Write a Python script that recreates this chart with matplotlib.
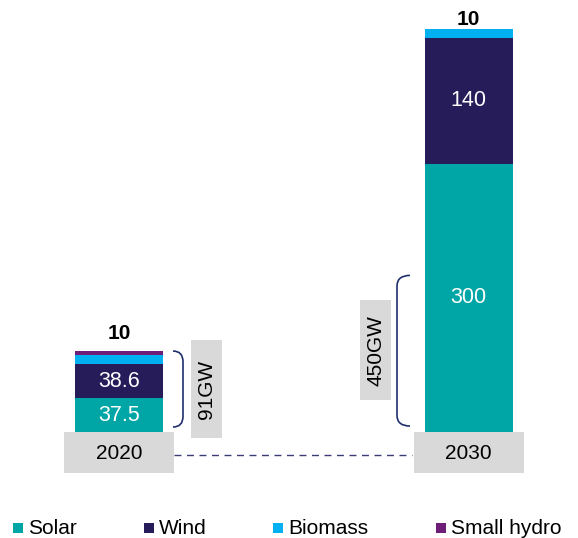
import matplotlib.pyplot as plt
from matplotlib.patches import Rectangle, PathPatch
from matplotlib.path import Path

plt.rcParams['font.family'] = ['Liberation Sans', 'DejaVu Sans']

years = ['2020', '2030']
solar = [37.5, 300]
wind = [38.6, 140]
biomass = [10, 10]
small_hydro = [4.9, 0]
totals = ['91GW', '450GW']

series = ['Solar', 'Wind', 'Biomass', 'Small hydro']
colors = ['#00A5A5', '#261C5A', '#00B0F0', '#6E1E78']

fig = plt.figure(figsize=(5.78, 5.38), dpi=100)
ax = fig.add_axes([0, 0, 1, 1])
ax.set_xlim(0, 578)
ax.set_ylim(-118.4, 482.7)
ax.axis('off')

xpos = [119, 468.5]
w = 88
px = 0.895  # pixels per GW
top_gap = [9, 0]  # space between bar top and the "10" label

bottom = [0, 0]
for vals, c in zip([solar, wind, biomass, small_hydro], colors):
    ax.bar(xpos, vals, width=w, bottom=bottom, color=c, linewidth=0)
    bottom = [b + v for b, v in zip(bottom, vals)]

# segment labels
for i in range(2):
    ax.text(xpos[i], solar[i] / 2, f'{solar[i]:g}', color='white', fontsize=15.5,
            ha='center', va='center')
    ax.text(xpos[i], solar[i] + wind[i] / 2, f'{wind[i]:g}', color='white', fontsize=15.5,
            ha='center', va='center')
    ax.text(xpos[i], bottom[i] + top_gap[i], f'{biomass[i]:g}', color='black', fontsize=15,
            fontweight='bold', ha='center', va='bottom')

# year boxes
for i in range(2):
    ax.add_patch(Rectangle((xpos[i] - 55, -45.8), 110, 45.8, color='#D9D9D9', lw=0))
    ax.text(xpos[i], -23.5, years[i], fontsize=15, ha='center', va='center')

ax.plot([174, 412], [-25.7, -25.7], color='#3C3C78', lw=1, ls=(0, (5, 4)))


def brace(x0, x1, y0, y1):
    # x0: end tips, x1: spine
    r = 12
    verts = [(x0, y1), (x1, y1), (x1, y1 - r), (x1, y1 - r),
             (x1, y0 + r), (x1, y0 + r), (x1, y0), (x0, y0)]
    codes = [Path.MOVETO, Path.CURVE3, Path.CURVE3, Path.LINETO,
             Path.LINETO, Path.LINETO, Path.CURVE3, Path.CURVE3]
    ax.add_patch(PathPatch(Path(verts, codes), fill=False, color='#1F2F6E', lw=1.2))


brace(173, 183, 5.6, 90.5)
brace(410, 397, 6.7, 175)

# total boxes
ax.add_patch(Rectangle((191, -6.7), 31, 109.5, color='#D9D9D9', lw=0))
ax.text(206.5, 48, totals[0], fontsize=15, rotation=90, ha='center', va='center')
ax.add_patch(Rectangle((360, 35.8), 31, 111.7, color='#D9D9D9', lw=0))
ax.text(375.5, 91.5, totals[1], fontsize=15, rotation=90, ha='center', va='center')

# legend
leg_x = [13, 144, 273, 436]
for x, name, c in zip(leg_x, series, colors):
    ax.add_patch(Rectangle((x, -112.8), 10, 10 / px, color=c, lw=0))
    ax.text(x + 15, -107.5, name, fontsize=15, ha='left', va='center')

fig.savefig('out.png', dpi=100)
